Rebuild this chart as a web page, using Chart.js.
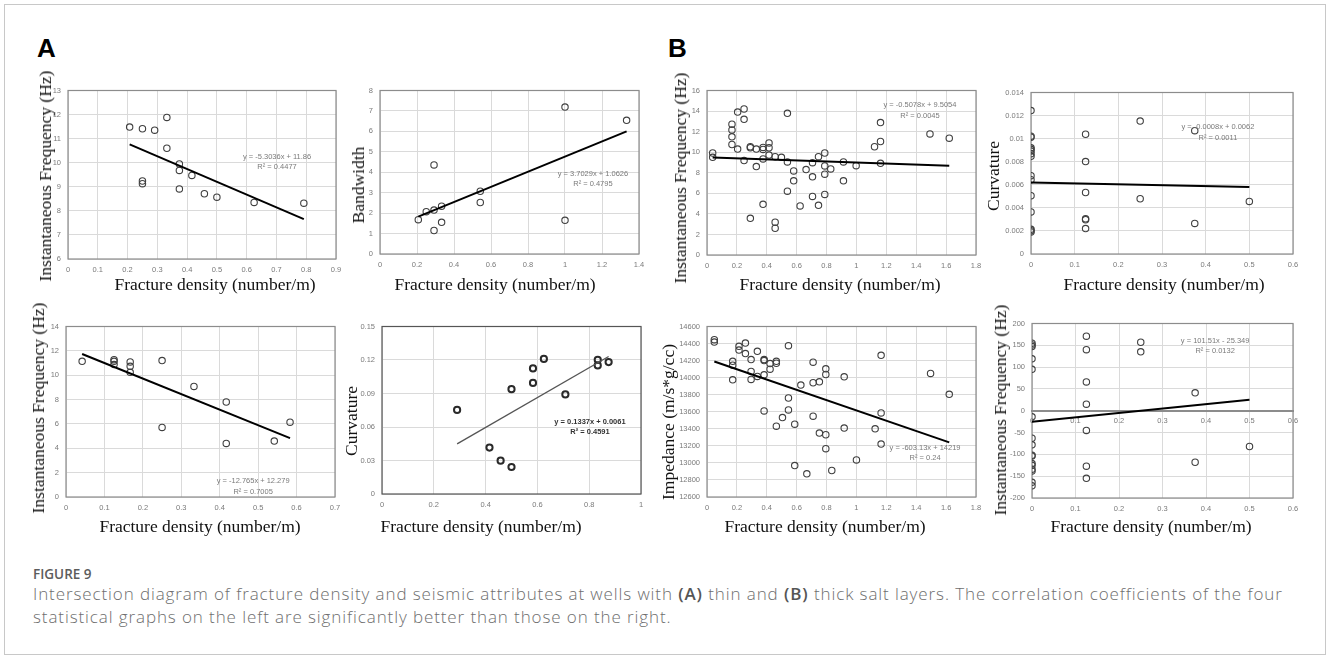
<!DOCTYPE html>
<html>
<head>
<meta charset="utf-8">
<script src="https://cdn.jsdelivr.net/npm/chart.js@4.4.1/dist/chart.umd.min.js"></script>
<style>
  html, body { margin: 0; padding: 0; background: #fff; }
  body { width: 1328px; height: 657px; position: relative; overflow: hidden; font-family: "Open Sans", sans-serif; }
  #frame { position: absolute; left: 4px; top: 4px; width: 1322px; height: 651px; border: 1px solid #c8c8c8; box-sizing: border-box; }
  .letter { position: absolute; font: bold 26px/26px "Liberation Sans", Arial, sans-serif; color: #000; }
  canvas { position: absolute; }
  .xt, .yt { position: absolute; font-family: "Liberation Serif", "Times New Roman", serif; font-size: 17.5px; line-height: 20px; color: #111; white-space: nowrap; }
  .xt { transform: translateX(-50%); }
  .yt { transform: translate(-50%, -50%) rotate(-90deg); }
  #figno { position: absolute; left: 33px; top: 566px; font-size: 13.5px; line-height: 16px; font-weight: 600; color: #5c5c5c; }
  #caption { position: absolute; left: 33px; top: 582px; font-size: 17px; line-height: 23px; font-weight: 300; letter-spacing: 0.9px; color: #6e6e6e; white-space: nowrap; }
  #caption b { font-weight: 600; color: #555; }
</style>
</head>
<body>
<div id="frame"></div>
<div class="letter" style="left:37px;top:35px;">A</div>
<div class="letter" style="left:668px;top:35px;">B</div>
<div id="figno">FIGURE 9</div>
<div id="caption">Intersection diagram of fracture density and seismic attributes at wells with <b>(A)</b> thin and <b>(B)</b> thick salt layers. The correlation coefficients of the four<br>statistical graphs on the left are significantly better than those on the right.</div>

<script>
// ---- Wells with thin salt layers (A) ----
const thinFreqX = [0.207, 0.25, 0.291, 0.332, 0.332, 0.374, 0.374, 0.416, 0.25, 0.25, 0.374, 0.458, 0.5, 0.625, 0.792];
const thinFreqY = [11.48, 11.41, 11.35, 11.88, 10.6, 9.95, 9.68, 9.47, 9.24, 9.13, 8.91, 8.71, 8.57, 8.35, 8.32];
const thinFreqFit = [-5.3036, 11.86, 0.4477];

const thinBandX = [0.207, 0.25, 0.292, 0.333, 0.292, 0.292, 0.333, 0.542, 0.542, 1.0, 1.0, 1.333];
const thinBandY = [1.68, 2.07, 2.15, 2.34, 4.36, 1.15, 1.55, 3.07, 2.52, 7.19, 1.65, 6.54];
const thinBandFit = [3.7029, 1.0626, 0.4795];

const thinFreq2X = [0.042, 0.125, 0.125, 0.125, 0.167, 0.167, 0.167, 0.25, 0.25, 0.333, 0.417, 0.417, 0.542, 0.583];
const thinFreq2Y = [11.14, 11.28, 11.14, 10.87, 11.09, 10.73, 10.24, 11.2, 5.71, 9.08, 7.8, 4.4, 4.59, 6.14];
const thinFreq2Fit = [-12.765, 12.279, 0.7005];

const thinCurvX = [0.29, 0.415, 0.458, 0.5, 0.5, 0.583, 0.583, 0.625, 0.708, 0.833, 0.833, 0.875];
const thinCurvY = [0.0753, 0.0416, 0.0298, 0.0242, 0.0939, 0.1125, 0.0995, 0.121, 0.0892, 0.1202, 0.1151, 0.1181];
const thinCurvFit = [0.1337, 0.0061, 0.4591];

// ---- Wells with thick salt layers (B) ----
const thickFreqX = [0.038, 0.038, 0.167, 0.167, 0.167, 0.167, 0.205, 0.205, 0.248, 0.248, 0.248,
  0.29, 0.29, 0.29, 0.33, 0.33, 0.375, 0.375, 0.375, 0.375, 0.415, 0.415, 0.415, 0.456, 0.456, 0.456,
  0.498, 0.538, 0.538, 0.538, 0.58, 0.58, 0.623, 0.663, 0.706, 0.706, 0.706, 0.746, 0.746,
  0.788, 0.788, 0.788, 0.788, 0.828, 0.913, 0.913, 0.998, 1.121, 1.161, 1.161, 1.161, 1.492, 1.621];
const thickFreqY = [9.92, 9.5, 12.72, 12.17, 11.49, 10.75, 13.9, 10.3, 14.2, 13.2, 9.18,
  10.53, 10.43, 3.57, 10.3, 8.6, 10.46, 10.27, 9.34, 4.93, 10.9, 10.43, 9.72, 9.56, 3.19, 2.6,
  9.5, 13.78, 9.05, 6.21, 8.18, 7.21, 4.77, 8.31, 8.98, 7.6, 5.7, 9.56, 4.83,
  9.92, 8.66, 7.86, 5.89, 8.37, 9.05, 7.21, 8.69, 10.53, 12.88, 11.04, 8.92, 11.78, 11.36];
const thickFreqFit = [-0.5078, 9.5054, 0.0045];

const thickCurvX = [0, 0, 0, 0, 0, 0, 0, 0, 0, 0, 0, 0, 0, 0, 0,
  0.125, 0.125, 0.125, 0.125, 0.125, 0.125, 0.25, 0.25, 0.375, 0.375, 0.5];
const thickCurvY = [0.01243, 0.01021, 0.01012, 0.0092, 0.00907, 0.00892, 0.0087, 0.00847, 0.00679, 0.00644,
  0.00505, 0.00365, 0.00214, 0.00202, 0.00191,
  0.01038, 0.00801, 0.00533, 0.00305, 0.00297, 0.0022, 0.01152, 0.00479, 0.01069, 0.00265, 0.00456];
const thickCurvFit = [-0.0008, 0.0062, 0.0011];

const thickImpX = [0.049, 0.049, 0.172, 0.172, 0.172, 0.214, 0.214, 0.257, 0.257, 0.295, 0.295, 0.295,
  0.337, 0.337, 0.382, 0.382, 0.382, 0.382, 0.422, 0.422, 0.464, 0.464, 0.464, 0.505,
  0.545, 0.545, 0.545, 0.587, 0.587, 0.628, 0.668, 0.71, 0.71, 0.71, 0.752, 0.752,
  0.795, 0.795, 0.795, 0.795, 0.835, 0.918, 0.918, 1.0, 1.125, 1.165, 1.165, 1.165, 1.496, 1.621];
const thickImpY = [14445, 14417, 14192, 14146, 13975, 14367, 14324, 14406, 14282, 14212, 14072, 13979,
  14309, 14014, 14212, 14200, 14033, 13610, 14165, 14099, 14192, 14169, 13431, 13532,
  14375, 13761, 13621, 13454, 12969, 13913, 12872, 14181, 13940, 13548, 13951, 13350,
  14103, 14037, 13330, 13167, 12911, 14010, 13408, 13035, 13400, 14262, 13586, 13221, 14049, 13804];
const thickImpFit = [-603.13, 14219, 0.24];

const thickFreq2X = [0, 0, 0, 0, 0, 0, 0, 0, 0, 0, 0, 0, 0, 0, 0, 0,
  0.125, 0.125, 0.125, 0.125, 0.125, 0.125, 0.125, 0.25, 0.25, 0.375, 0.375, 0.5];
const thickFreq2Y = [155, 151, 147, 119, 95, -14, -63, -78, -102, -104, -121, -125, -134, -138, -164, -172,
  171, 140, 66, 15, -45, -127, -155, 157, 135, 41, -118, -82];
const thickFreq2Fit = [101.51, -25.349, 0.0132];

// Axis ranges: [min, max, step]
const axFreqThinX = [0, 0.9, 0.1],  axFreqThinY = [6, 13, 1];
const axBandX = [0, 1.4, 0.2],      axBandY = [0, 8, 1];
const axFreq2ThinX = [0, 0.7, 0.1], axFreq2ThinY = [0, 14, 2];
const axCurvThinX = [0, 1, 0.2],    axCurvThinY = [0, 0.15, 0.03];
const axFreqThickX = [0, 1.8, 0.2], axFreqThickY = [0, 16, 2];
const axCurvThickX = [0, 0.6, 0.1], axCurvThickY = [0, 0.014, 0.002];
const axImpX = [0, 1.8, 0.2],       axImpY = [12600, 14600, 200];
const axFreq2ThickX = [0, 0.6, 0.1], axFreq2ThickY = [-200, 200, 50];

const xTitle = 'Fracture density (number/m)';

// Panel layout: plot box [left, top, right, bottom], title anchors, fit-label anchor (data units)
const panels = [
  { xs: thinFreqX, ys: thinFreqY, fit: thinFreqFit, ax: axFreqThinX, ay: axFreqThinY,
    box: [68, 89, 336, 259], yTitle: 'Instantaneous Frequency (Hz)', yt: [45, 176], xt: [215, 274], lab: [0.702, 10.24] },
  { xs: thinBandX, ys: thinBandY, fit: thinBandFit, ax: axBandX, ay: axBandY,
    box: [380, 89, 639, 254], yTitle: 'Bandwidth', yt: [358, 185], xt: [495, 274], lab: [1.151, 3.93] },
  { xs: thickFreqX, ys: thickFreqY, fit: thickFreqFit, ax: axFreqThickX, ay: axFreqThickY,
    box: [707, 89, 976, 255], yTitle: 'Instantaneous Frequency (Hz)', yt: [680, 178], xt: [840, 274], lab: [1.425, 14.55] },
  { xs: thickCurvX, ys: thickCurvY, fit: thickCurvFit, ax: axCurvThickX, ay: axCurvThickY,
    box: [1031, 91, 1293, 254], yTitle: 'Curvature', yt: [993, 176], xt: [1164, 274], lab: [0.428, 0.01099] },
  { xs: thinFreq2X, ys: thinFreq2Y, fit: thinFreq2Fit, ax: axFreq2ThinX, ay: axFreq2ThinY,
    box: [66, 325, 335, 497], yTitle: 'Instantaneous Frequency (Hz)', yt: [38, 408], xt: [200, 516], lab: [0.487, 1.30] },
  { xs: thinCurvX, ys: thinCurvY, fit: thinCurvFit, ax: axCurvThinX, ay: axCurvThinY,
    box: [382, 325, 641, 494], yTitle: 'Curvature', yt: [351, 421], xt: [481, 516], lab: [0.803, 0.0648],
    bold: true },
  { xs: thickImpX, ys: thickImpY, fit: thickImpFit, ax: axImpX, ay: axImpY,
    box: [707, 325, 976, 497], yTitle: 'Impedance (m/s*g/cc)', yt: [668, 422], xt: [825, 516], lab: [1.459, 13181] },
  { xs: thickFreq2X, ys: thickFreq2Y, fit: thickFreq2Fit, ax: axFreq2ThickX, ay: axFreq2ThickY,
    box: [1032, 322, 1293, 498], yTitle: 'Instantaneous Frequency (Hz)', yt: [1000, 410], xt: [1151, 516], lab: [0.421, 161],
    zeroAxis: true }
];

const YW = 40, XH = 22, PT = 10, PR = 14;
const tickFont = { family: '"Liberation Sans", Arial, sans-serif', size: 7.5 };
const tickColor = '#7a7a7a';
const gridColor = '#dadada';

const fmt = v => String(Number(Number(v).toFixed(6)));

function fitText(f) {
  const sign = f[1] < 0 ? '-' : '+';
  return ['y = ' + f[0] + 'x ' + sign + ' ' + Math.abs(f[1]), 'R\u00B2 = ' + f[2]];
}

function fitLine(xs, f) {
  const lo = Math.min(...xs), hi = Math.max(...xs);
  return [{ x: lo, y: f[0] * lo + f[1] }, { x: hi, y: f[0] * hi + f[1] }];
}

function framePlugin(color) {
  return {
    id: 'plotFrame',
    beforeDatasetsDraw(chart) {
      const { ctx, chartArea: a } = chart;
      ctx.save();
      ctx.strokeStyle = color;
      ctx.lineWidth = 1.2;
      ctx.strokeRect(a.left, a.top, a.right - a.left, a.bottom - a.top);
      ctx.restore();
    }
  };
}

function labelPlugin(lines, at, bold) {
  return {
    id: 'fitLabel',
    afterDatasetsDraw(chart) {
      const { ctx } = chart;
      const px = chart.scales.x.getPixelForValue(at[0]);
      const py = chart.scales.y.getPixelForValue(at[1]);
      ctx.save();
      ctx.font = (bold ? 'bold ' : '') + '7.5px "Liberation Sans", Arial, sans-serif';
      ctx.fillStyle = bold ? '#333' : '#7a7a7a';
      ctx.textAlign = 'center';
      ctx.textBaseline = 'middle';
      lines.forEach((t, i) => ctx.fillText(t, px, py + i * 10.5));
      ctx.restore();
    }
  };
}

function addText(cls, text, x, y) {
  const d = document.createElement('div');
  d.className = cls;
  d.textContent = text;
  d.style.left = x + 'px';
  d.style.top = y + 'px';
  document.body.appendChild(d);
}

function linearAxis(r, extra) {
  return Object.assign({
    type: 'linear', min: r[0], max: r[1],
    ticks: { stepSize: r[2], font: tickFont, color: tickColor, callback: fmt, autoSkip: false, maxRotation: 0 },
    grid: { color: gridColor, lineWidth: 1, drawTicks: false },
    border: { display: false }
  }, extra);
}

panels.forEach(p => {
  const [L, T, R, B] = p.box;
  const cl = L - YW, ct = T - PT;
  const w = R + PR - cl, h = B + XH - ct;
  const cv = document.createElement('canvas');
  cv.width = w; cv.height = h;
  cv.style.left = cl + 'px'; cv.style.top = ct + 'px';
  cv.style.width = w + 'px'; cv.style.height = h + 'px';
  document.body.appendChild(cv);

  const xAx = linearAxis(p.ax, { afterFit: s => { s.height = XH; } });
  xAx.ticks.padding = 6;
  const yAx = linearAxis(p.ay, { afterFit: s => { s.width = YW; } });
  yAx.ticks.padding = 7;

  const scales = { x: xAx, y: yAx };
  if (p.zeroAxis) {
    // value axis line through y = 0 with its own labels, plus a bottom axis carrying the grid
    scales.x = linearAxis(p.ax, { position: { y: 0 } });
    scales.x.grid = { display: false, drawTicks: false };
    scales.x.border = { display: true, color: '#8c8c8c', width: 2 };
    scales.x.ticks.padding = 6;
    scales.x2 = linearAxis(p.ax, { position: 'bottom', afterFit: s => { s.height = XH; } });
    scales.x2.ticks.padding = 6;
  }

  new Chart(cv, {
    type: 'scatter',
    data: {
      datasets: [
        {
          data: p.xs.map((x, i) => ({ x, y: p.ys[i] })),
          pointStyle: 'circle',
          pointRadius: p.bold ? 3.1 : 3.2,
          pointBorderWidth: p.bold ? 2 : 1.1,
          pointBorderColor: p.bold ? '#2a2a2a' : '#404040',
          pointBackgroundColor: 'rgba(0,0,0,0)',
          showLine: false,
          order: 1
        },
        {
          type: 'line',
          data: fitLine(p.xs, p.fit),
          borderColor: p.bold ? '#555' : '#000',
          borderWidth: p.bold ? 1.3 : 2,
          pointRadius: 0,
          fill: false,
          order: 0
        }
      ]
    },
    options: {
      responsive: false,
      animation: false,
      devicePixelRatio: 1,
      layout: { padding: { top: PT, right: PR, left: 0, bottom: 0 } },
      plugins: { legend: { display: false }, tooltip: { enabled: false } },
      scales
    },
    plugins: [framePlugin(p.bold ? '#555' : '#8c8c8c'), labelPlugin(fitText(p.fit), p.lab, p.bold)]
  });

  addText('yt', p.yTitle, p.yt[0], p.yt[1]);
  addText('xt', xTitle, p.xt[0], p.xt[1]);
});
</script>
</body>
</html>
